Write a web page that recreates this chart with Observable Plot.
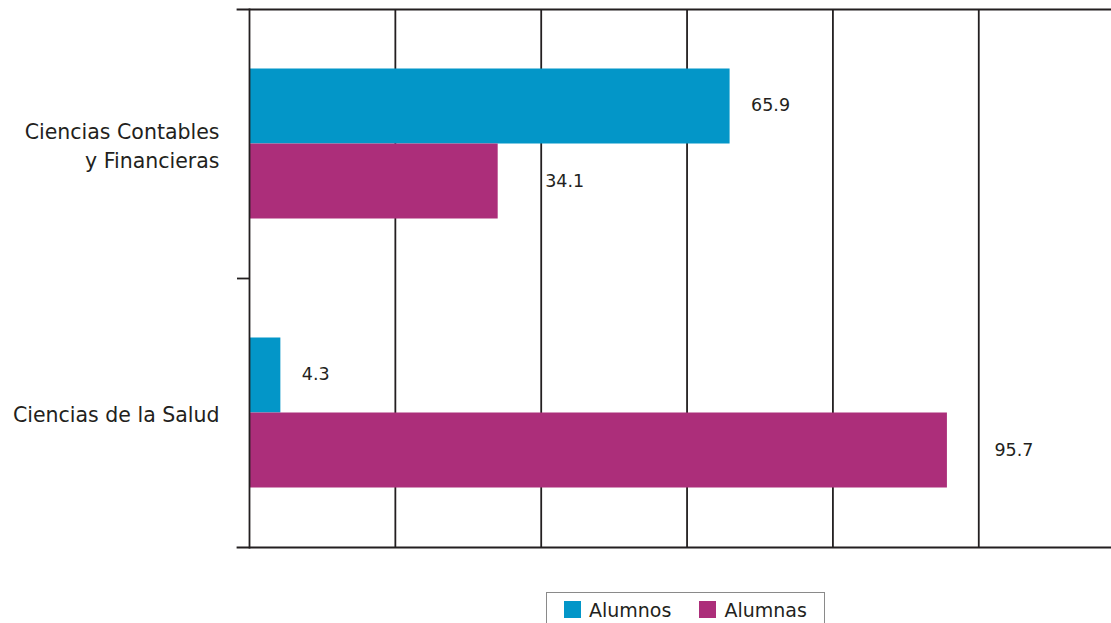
<!DOCTYPE html>
<html>
<head>
<meta charset="utf-8">
<script src="https://cdn.jsdelivr.net/npm/d3@7"></script>
<script src="https://cdn.jsdelivr.net/npm/@observablehq/plot@0.6"></script>
<style>
  html, body { margin: 0; padding: 0; background: #fff; }
  #chart { width: 1111px; }
  #legendWrap { margin-top: 37px; width: 1111px; padding-left: 546px; box-sizing: border-box; }
  #legendBox { display: inline-block; border: 1.5px solid #8a8a8a; padding: 0 17px 6px 17px; }
  #legendBox [class$="-swatches"] { margin: 0 !important; min-height: 0 !important; }
  #legendBox [class$="-swatch"] { margin-right: 28px !important; }
  #legendBox [class$="-swatch"]:last-child { margin-right: 0 !important; }
  #legendBox [class$="-swatch"] > svg { margin-right: 8px !important; }
</style>
</head>
<body>
<div id="chart"></div>
<div id="legendWrap"><div id="legendBox"></div></div>
<script>
const categories = ["Ciencias Contables y Financieras", "Ciencias de la Salud"];
const categoryLabels = ["Ciencias Contables\ny Financieras", "Ciencias de la Salud"];
const series = ["Alumnos", "Alumnas"];
const alumnos = [65.9, 4.3];
const alumnas = [34.1, 95.7];
const gridTicks = [20, 40, 60, 80, 100];
const colors = ["#0396c8", "#ac2e7a"];

const data = categories.flatMap((c, i) => [
  {category: c, series: series[0], value: alumnos[i]},
  {category: c, series: series[1], value: alumnas[i]}
]);

const W = 1111, H = 555, mt = 9, mb = 8, ml = 249, mr = 0;
const band = (H - mt - mb) / categories.length;
const barH = 75;
const ink = "#231f20";
const font = "'DejaVu Sans', 'Noto Sans', sans-serif";

const s0 = data.filter(d => d.series === series[0]);
const s1 = data.filter(d => d.series === series[1]);

const plot = Plot.plot({
  width: W, height: H,
  marginTop: mt, marginBottom: mb, marginLeft: ml, marginRight: mr,
  style: {fontFamily: font, color: ink, background: "#fff", overflow: "visible"},
  x: {domain: [0, 118.2], axis: null},
  y: {domain: categories, padding: 0, axis: null},
  color: {domain: series, range: colors},
  marks: [
    Plot.ruleX(gridTicks, {stroke: ink, strokeWidth: 1.8}),
    Plot.barX(s0, {x: "value", y: "category", fill: "series",
      insetTop: band / 2 - barH, insetBottom: band / 2}),
    Plot.barX(s1, {x: "value", y: "category", fill: "series",
      insetTop: band / 2, insetBottom: band / 2 - barH}),
    Plot.text(s0, {x: "value", y: "category", text: d => d.value.toFixed(1),
      textAnchor: "start", dx: 21, dy: -barH / 2 - 1, fontSize: 17.5, fill: ink}),
    Plot.text(s1, {x: "value", y: "category", text: d => d.value.toFixed(1),
      textAnchor: "start", dx: 47, dy: barH / 2, fontSize: 17.5, fill: ink}),
    Plot.frame({anchor: "top", insetLeft: -12, stroke: ink, strokeWidth: 1.8}),
    Plot.frame({anchor: "bottom", insetLeft: -12, stroke: ink, strokeWidth: 1.8}),
    Plot.frame({anchor: "left", stroke: ink, strokeWidth: 1.8}),
    Plot.ruleY([categories[1]], {dy: -band / 2, insetLeft: -12,
      insetRight: W - ml - mr, stroke: ink, strokeWidth: 1.8}),
    Plot.axisY({tickSize: 0, tickPadding: 30, fontSize: 20.5, lineHeight: 1.42, label: null,
      tickFormat: (d) => categoryLabels[categories.indexOf(d)], fill: ink})
  ]
});
document.getElementById("chart").appendChild(plot);

const legend = plot.legend("color", {swatchSize: 17, swatchWidth: 17, swatchHeight: 17,
  style: {fontFamily: font, fontSize: "19px", color: ink}});
document.getElementById("legendBox").appendChild(legend);
</script>
</body>
</html>
